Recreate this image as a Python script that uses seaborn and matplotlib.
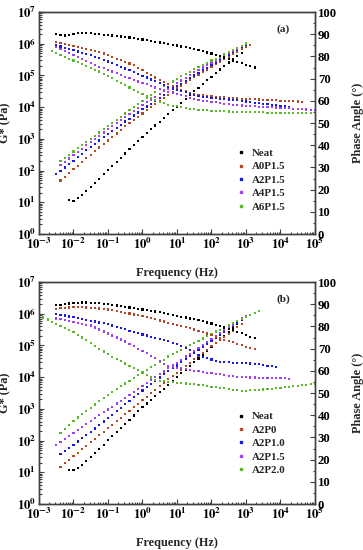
import matplotlib
matplotlib.use('Agg')
import matplotlib.pyplot as plt
import matplotlib.ticker as mticker
from matplotlib.lines import Line2D
import numpy as np
import pandas as pd
import seaborn as sns

# measurement frequencies in Hz (8 points per decade, 1e-3 .. 1e5)
freq_hz = [1.0e-3, 1.33e-3, 1.78e-3, 2.37e-3, 3.16e-3, 4.22e-3, 5.62e-3, 7.5e-3,
           1.0e-2, 1.33e-2, 1.78e-2, 2.37e-2, 3.16e-2, 4.22e-2, 5.62e-2, 7.5e-2,
           1.0e-1, 1.33e-1, 1.78e-1, 2.37e-1, 3.16e-1, 4.22e-1, 5.62e-1, 7.5e-1,
           1.0, 1.33, 1.78, 2.37, 3.16, 4.22, 5.62, 7.5,
           1.0e1, 1.33e1, 1.78e1, 2.37e1, 3.16e1, 4.22e1, 5.62e1, 7.5e1,
           1.0e2, 1.33e2, 1.78e2, 2.37e2, 3.16e2, 4.22e2, 5.62e2, 7.5e2,
           1.0e3, 1.33e3, 1.78e3, 2.37e3, 3.16e3, 4.22e3, 5.62e3, 7.5e3,
           1.0e4, 1.33e4, 1.78e4, 2.37e4, 3.16e4, 4.22e4, 5.62e4, 7.5e4,
           1.0e5]

colors = ['#000000', '#b0482a', '#1a1ae0', '#a040f0', '#5cb82a']

# ---- panel (a) ----
a_labels = ['Neat', 'A0P1.5', 'A2P1.5', 'A4P1.5', 'A6P1.5']
# log10 of G* (Pa); first value sits at freq_hz[start]
a_g_start = [7, 5, 4, 5, 5]
a_g_neat = [1.08, 1.05, 1.13, 1.23, 1.35, 1.47, 1.60, 1.74, 1.88, 2.02, 2.15, 2.28, 2.41, 2.54,
            2.67, 2.80, 2.93, 3.06, 3.18, 3.30, 3.42, 3.54, 3.66, 3.78, 3.90, 4.02, 4.14, 4.26,
            4.38, 4.50, 4.61, 4.73, 4.85, 4.96, 5.08, 5.19, 5.30, 5.41, 5.52, 5.62, 5.72]
a_g_a0 = [1.69, 1.80, 1.92, 2.04, 2.15, 2.27, 2.39, 2.50, 2.61, 2.73, 2.84, 2.95, 3.06, 3.17,
          3.29, 3.40, 3.50, 3.60, 3.70, 3.80, 3.90, 4.00, 4.10, 4.20, 4.29, 4.39, 4.48, 4.58,
          4.67, 4.76, 4.86, 4.95, 5.03, 5.11, 5.19, 5.28, 5.36, 5.44, 5.52, 5.60, 5.68, 5.75,
          5.83, 5.90, 5.97]
a_g_a2 = [1.88, 1.99, 2.10, 2.21, 2.31, 2.42, 2.53, 2.64, 2.75, 2.85, 2.95, 3.05, 3.15, 3.25,
          3.35, 3.45, 3.55, 3.64, 3.74, 3.83, 3.93, 4.02, 4.11, 4.21, 4.30, 4.39, 4.48, 4.56,
          4.65, 4.74, 4.83, 4.91, 5.00, 5.08, 5.16, 5.24, 5.33, 5.41, 5.49, 5.57, 5.65, 5.73,
          5.81, 5.89, 5.97]
a_g_a4 = [2.17, 2.27, 2.38, 2.48, 2.59, 2.69, 2.80, 2.90, 3.00, 3.10, 3.20, 3.30, 3.40, 3.50,
          3.60, 3.70, 3.79, 3.88, 3.97, 4.06, 4.15, 4.24, 4.33, 4.42, 4.50, 4.59, 4.67, 4.76,
          4.84, 4.93, 5.01, 5.10, 5.17, 5.25, 5.32, 5.40, 5.47, 5.55, 5.62, 5.70, 5.77, 5.85,
          5.92, 6.00]
a_g_a6 = [2.30, 2.40, 2.50, 2.60, 2.70, 2.80, 2.90, 3.00, 3.10, 3.20, 3.30, 3.40, 3.50, 3.60,
          3.70, 3.80, 3.90, 4.00, 4.09, 4.19, 4.29, 4.39, 4.48, 4.58, 4.66, 4.74, 4.81, 4.89,
          4.97, 5.05, 5.12, 5.20, 5.27, 5.33, 5.40, 5.47, 5.53, 5.60, 5.66, 5.73, 5.80, 5.87,
          5.94, 6.01]
# phase angle (deg)
a_p_start = [4, 4, 4, 4, 3]
a_p_neat = [90.0, 89.6, 89.4, 89.8, 90.2, 90.5, 90.6, 90.5, 90.4, 90.2, 90.0, 89.8, 89.6, 89.4,
            89.2, 89.0, 88.8, 88.5, 88.2, 87.9, 87.6, 87.3, 86.9, 86.6, 86.3, 85.9, 85.6, 85.2,
            84.9, 84.5, 84.1, 83.7, 83.3, 82.8, 82.3, 81.8, 81.3, 80.7, 80.1, 79.5, 78.9, 78.2,
            77.6, 76.9, 76.3, 75.6, 75.0]
a_p_a0 = [86.6, 86.2, 85.7, 85.2, 84.8, 84.3, 83.9, 83.4, 82.9, 82.5, 82.0, 81.3, 80.5, 79.8,
          79.0, 78.3, 77.5, 76.8, 76.0, 74.9, 73.8, 72.7, 71.6, 70.5, 69.4, 68.5, 67.6, 66.7,
          65.8, 64.9, 64.3, 63.7, 63.2, 62.6, 62.4, 62.2, 62.0, 61.8, 61.6, 61.5, 61.3, 61.2,
          61.1, 61.0, 60.9, 60.8, 60.7, 60.6, 60.5, 60.4, 60.3, 60.2, 60.1, 60.0, 59.9, 59.8,
          59.7, 59.6]
a_p_a2 = [85.1, 84.5, 83.9, 83.4, 82.8, 82.2, 81.6, 81.0, 80.5, 79.9, 79.3, 78.5, 77.7, 76.9,
          76.1, 75.4, 74.6, 73.8, 73.0, 72.2, 71.3, 70.5, 69.6, 68.8, 67.9, 67.1, 66.2, 65.6,
          65.0, 64.4, 63.8, 63.2, 62.6, 62.0, 61.8, 61.6, 61.4, 61.2, 61.0, 60.8, 60.6, 60.4,
          60.2, 59.9, 59.7, 59.4, 59.2, 59.0, 58.7, 58.5, 58.2, 58.0, 57.8, 57.5, 57.3]
a_p_a4 = [84.1, 83.2, 82.4, 81.5, 80.6, 79.8, 78.9, 78.0, 77.1, 76.3, 75.4, 74.7, 73.9, 73.2,
          72.4, 71.7, 70.9, 70.2, 69.4, 68.7, 68.0, 67.4, 66.7, 66.0, 65.4, 64.7, 64.0, 63.5,
          63.0, 62.5, 62.0, 61.4, 60.9, 60.4, 60.1, 59.8, 59.5, 59.3, 59.0, 58.7, 58.4, 58.1,
          58.0, 57.9, 57.8, 57.6, 57.5, 57.4, 57.3, 57.2, 57.1, 57.0, 56.8, 56.7, 56.6, 56.5,
          56.4, 56.3, 56.1, 56.0, 55.9]
a_p_a6 = [82.4, 81.6, 80.7, 79.9, 79.0, 78.2, 77.4, 76.5, 75.7, 74.9, 74.0, 73.2, 72.2, 71.1,
          70.1, 69.1, 68.0, 67.0, 66.0, 64.9, 64.0, 63.0, 62.1, 61.1, 60.4, 59.6, 58.9, 58.1,
          57.8, 57.5, 57.2, 56.8, 56.5, 56.2, 55.9, 55.8, 55.7, 55.6, 55.5, 55.4, 55.3, 55.2,
          55.1, 55.1, 55.0, 55.0, 54.9, 54.9, 54.8, 54.8, 54.7, 54.7, 54.7, 54.6, 54.6, 54.6,
          54.5, 54.5, 54.5, 54.4, 54.4]

# ---- panel (b) ----
b_labels = ['Neat', 'A2P0', 'A2P1.0', 'A2P1.5', 'A2P2.0']
b_g_start = [7, 5, 5, 4, 5]
b_g_neat = [1.07, 1.06, 1.14, 1.24, 1.35, 1.47, 1.60, 1.73, 1.87, 2.01, 2.14, 2.27, 2.40, 2.53,
            2.66, 2.79, 2.92, 3.05, 3.17, 3.29, 3.41, 3.52, 3.64, 3.76, 3.88, 4.00, 4.12, 4.24,
            4.36, 4.47, 4.59, 4.71, 4.83, 4.95, 5.07, 5.19, 5.31, 5.43, 5.55, 5.67]
b_g_p0 = [1.18, 1.29, 1.40, 1.51, 1.62, 1.73, 1.84, 1.95, 2.06, 2.17, 2.28, 2.39, 2.50, 2.61,
          2.72, 2.83, 2.94, 3.05, 3.16, 3.27, 3.38, 3.49, 3.60, 3.71, 3.82, 3.93, 4.03, 4.14,
          4.24, 4.35, 4.45, 4.56, 4.66, 4.76, 4.87, 4.97, 5.07, 5.17, 5.27, 5.37, 5.47, 5.57,
          5.67]
b_g_p10 = [1.57, 1.67, 1.77, 1.87, 1.97, 2.07, 2.17, 2.28, 2.38, 2.49, 2.60, 2.71, 2.82, 2.93,
           3.04, 3.15, 3.26, 3.37, 3.48, 3.58, 3.69, 3.79, 3.89, 3.99, 4.09, 4.19, 4.28, 4.37,
           4.47, 4.56, 4.66, 4.75, 4.85, 4.95, 5.04, 5.14, 5.23, 5.33, 5.42, 5.52, 5.61, 5.71,
           5.80, 5.90]
b_g_p15 = [1.87, 1.96, 2.06, 2.15, 2.24, 2.33, 2.43, 2.52, 2.61, 2.70, 2.80, 2.89, 2.98, 3.07,
           3.17, 3.26, 3.35, 3.44, 3.54, 3.63, 3.72, 3.81, 3.91, 4.00, 4.09, 4.18, 4.28, 4.37,
           4.46, 4.55, 4.65, 4.74, 4.83, 4.92, 5.02, 5.11, 5.20, 5.29, 5.39, 5.48, 5.57, 5.66,
           5.76, 5.85, 5.94]
b_g_p20 = [2.24, 2.37, 2.50, 2.62, 2.73, 2.84, 2.94, 3.04, 3.14, 3.24, 3.34, 3.44, 3.53, 3.62,
           3.71, 3.80, 3.89, 3.98, 4.07, 4.15, 4.23, 4.31, 4.39, 4.47, 4.55, 4.65, 4.73, 4.80,
           4.87, 4.94, 5.01, 5.08, 5.15, 5.22, 5.30, 5.37, 5.44, 5.50, 5.57, 5.63, 5.70, 5.76,
           5.83, 5.89, 5.96, 6.02, 6.08]
b_p_start = [4, 4, 4, 4, 1]
b_p_neat = [89.6, 89.8, 90.1, 90.3, 90.5, 90.7, 90.8, 90.8, 90.7, 90.6, 90.4, 90.2, 90.0, 89.7,
            89.4, 89.1, 88.8, 88.5, 88.2, 87.9, 87.6, 87.3, 87.0, 86.7, 86.4, 86.0, 85.6, 85.2,
            84.8, 84.4, 84.0, 83.6, 83.2, 82.8, 82.3, 81.8, 81.3, 80.7, 80.1, 79.5, 78.9, 78.3,
            77.6, 76.9, 76.2, 75.4, 74.6]
b_p_p0 = [88.0, 88.2, 88.4, 88.5, 88.6, 88.6, 88.6, 88.5, 88.4, 88.3, 88.1, 87.9, 87.6, 87.3,
          87.0, 86.6, 86.2, 85.8, 85.4, 85.0, 84.6, 84.1, 83.7, 83.2, 82.7, 82.2, 81.7, 81.2,
          80.7, 80.2, 79.7, 79.2, 78.6, 78.0, 77.4, 76.8, 76.1, 75.4, 74.7, 74.0, 73.4, 72.8,
          72.2, 71.5, 70.9, 70.3, 69.7]
b_p_p10 = [85.7, 85.3, 84.9, 84.5, 84.1, 83.7, 83.4, 83.0, 82.6, 82.2, 81.8, 81.4, 81.0, 80.4,
           79.9, 79.3, 78.7, 78.1, 77.6, 77.0, 76.4, 75.9, 75.4, 74.8, 74.3, 73.8, 73.3, 72.7,
           72.2, 71.2, 70.2, 69.2, 68.2, 67.2, 66.2, 65.6, 65.1, 64.5, 64.0, 63.9, 63.8, 63.7,
           63.6, 63.5, 63.4, 63.3, 63.2, 62.9, 62.6, 62.3, 62.0, 61.7]
b_p_p15 = [83.6, 83.2, 82.8, 82.4, 82.0, 81.6, 81.2, 80.8, 80.4, 79.5, 78.6, 77.7, 76.8, 75.9,
           75.0, 74.1, 73.2, 72.1, 71.1, 70.0, 68.9, 67.9, 66.8, 65.7, 64.5, 63.2, 62.0, 61.7,
           61.4, 61.1, 60.8, 60.4, 60.1, 59.8, 59.5, 59.2, 58.9, 58.6, 58.4, 58.1, 57.8, 57.5,
           57.2, 57.1, 57.1, 57.0, 57.0, 56.9, 56.9, 56.8, 56.8, 56.7, 56.6, 56.6, 56.5]
b_p_p20 = [84.0, 83.1, 82.1, 81.2, 80.3, 79.4, 78.4, 77.5, 76.2, 75.0, 73.7, 72.5, 71.2, 69.9,
           68.7, 67.4, 66.4, 65.4, 64.4, 63.3, 62.3, 61.3, 60.2, 59.2, 58.1, 57.0, 55.9, 55.6,
           55.4, 55.1, 54.9, 54.7, 54.5, 54.3, 54.1, 53.9, 53.7, 53.5, 53.2, 52.9, 52.6, 52.4,
           52.1, 51.8, 51.5, 51.2, 51.1, 51.1, 51.2, 51.3, 51.4, 51.6, 51.7, 51.9, 52.1, 52.4,
           52.6, 52.8, 53.1, 53.3, 53.5, 53.8, 54.0, 54.2]


def build_frame(labels, starts, series, log_values=False):
    rows = []
    for lab, st, vals in zip(labels, starts, series):
        for k, v in enumerate(vals):
            rows.append({'freq': freq_hz[st + k],
                         'value': 10 ** v if log_values else v,
                         'sample': lab})
    return pd.DataFrame(rows)


sns.set_theme(style='ticks')
plt.rcParams['font.family'] = ['Liberation Serif', 'DejaVu Serif']
plt.rcParams['font.weight'] = 'bold'
plt.rcParams['mathtext.fontset'] = 'stix'

edge = '#404040'
fig = plt.figure(figsize=(3.63, 5.5), dpi=100)

panels = [
    ('(a)', a_labels, a_g_start, [a_g_neat, a_g_a0, a_g_a2, a_g_a4, a_g_a6],
     a_p_start, [a_p_neat, a_p_a0, a_p_a2, a_p_a4, a_p_a6], 0.5745, 0.395),
    ('(b)', b_labels, b_g_start, [b_g_neat, b_g_p0, b_g_p10, b_g_p15, b_g_p20],
     b_p_start, [b_p_neat, b_p_p0, b_p_p10, b_p_p15, b_p_p20], 0.0836, 0.425),
]

pow_fmt = mticker.FuncFormatter(lambda v, p: r'$\mathbf{10^{%d}}$' % int(round(np.log10(v))))

for tag, labels, g_start, g_series, p_start, p_series, bottom, leg_y in panels:
    ax = fig.add_axes([0.1074, bottom, 0.7603, 0.4036])
    ax2 = ax.twinx()
    ax.set_xscale('log')
    ax.set_yscale('log')
    ax2.set_xscale('log')

    df_g = build_frame(labels, g_start, g_series, log_values=True)
    df_p = build_frame(labels, p_start, p_series)
    pal = dict(zip(labels, colors))

    sns.scatterplot(data=df_g, x='freq', y='value', hue='sample', palette=pal,
                    marker='s', s=2.4, linewidth=0, legend=False, ax=ax)
    sns.scatterplot(data=df_p, x='freq', y='value', hue='sample', palette=pal,
                    marker='s', s=2.4, linewidth=0, legend=False, ax=ax2)

    ax.set_xlim(1e-3, 1e5)
    ax.set_ylim(1, 1e7)
    ax2.set_ylim(0, 100)

    ax.xaxis.set_major_locator(mticker.LogLocator(base=10, numticks=20))
    ax.xaxis.set_minor_locator(mticker.LogLocator(base=10, subs=np.arange(2, 10), numticks=100))
    ax.yaxis.set_major_locator(mticker.LogLocator(base=10, numticks=20))
    ax.yaxis.set_minor_locator(mticker.LogLocator(base=10, subs=np.arange(2, 10), numticks=100))
    ax.xaxis.set_major_formatter(pow_fmt)
    ax.yaxis.set_major_formatter(pow_fmt)
    ax.xaxis.set_minor_formatter(mticker.NullFormatter())
    ax.yaxis.set_minor_formatter(mticker.NullFormatter())
    ax2.yaxis.set_major_locator(mticker.MultipleLocator(10))
    ax2.yaxis.set_minor_locator(mticker.MultipleLocator(5))

    for a in (ax, ax2):
        a.tick_params(which='both', direction='in', color=edge, width=0.8,
                      labelsize=9.2, labelcolor='black', pad=2)
        a.tick_params(which='major', length=3.5)
        a.tick_params(which='minor', length=1.8)
        for sp in a.spines.values():
            sp.set_color(edge)
            sp.set_linewidth(1.0)
    ax.tick_params(axis='x', which='both', top=False)
    ax2.tick_params(axis='x', which='both', top=False, bottom=False)

    ax.set_xlabel('Frequency (Hz)', fontsize=8.8, fontweight='bold')
    ax.set_ylabel('G* (Pa)', fontsize=8.8, fontweight='bold')
    ax2.set_ylabel('Phase Angle (°)', fontsize=8.8, fontweight='bold')
    ax.xaxis.set_label_coords(0.5, -0.149)
    ax.yaxis.set_label_coords(-0.1, 0.5)
    ax2.yaxis.set_label_coords(1.134, 0.5)

    ax.text(0.884, 0.923, tag, transform=ax.transAxes, ha='center', va='center',
            fontsize=8.2, fontweight='bold')

    handles = [Line2D([], [], marker='s', ls='', color=c, markersize=2.0) for c in colors]
    ax2.legend(handles, labels, loc='upper left', bbox_to_anchor=(0.71, leg_y),
               frameon=False, prop={'family': 'Liberation Serif', 'weight': 'bold', 'size': 7.8},
               handlelength=0.8, handletextpad=0.6, labelspacing=0.35, borderaxespad=0,
               borderpad=0.2)

fig.savefig('out.png', dpi=100)
